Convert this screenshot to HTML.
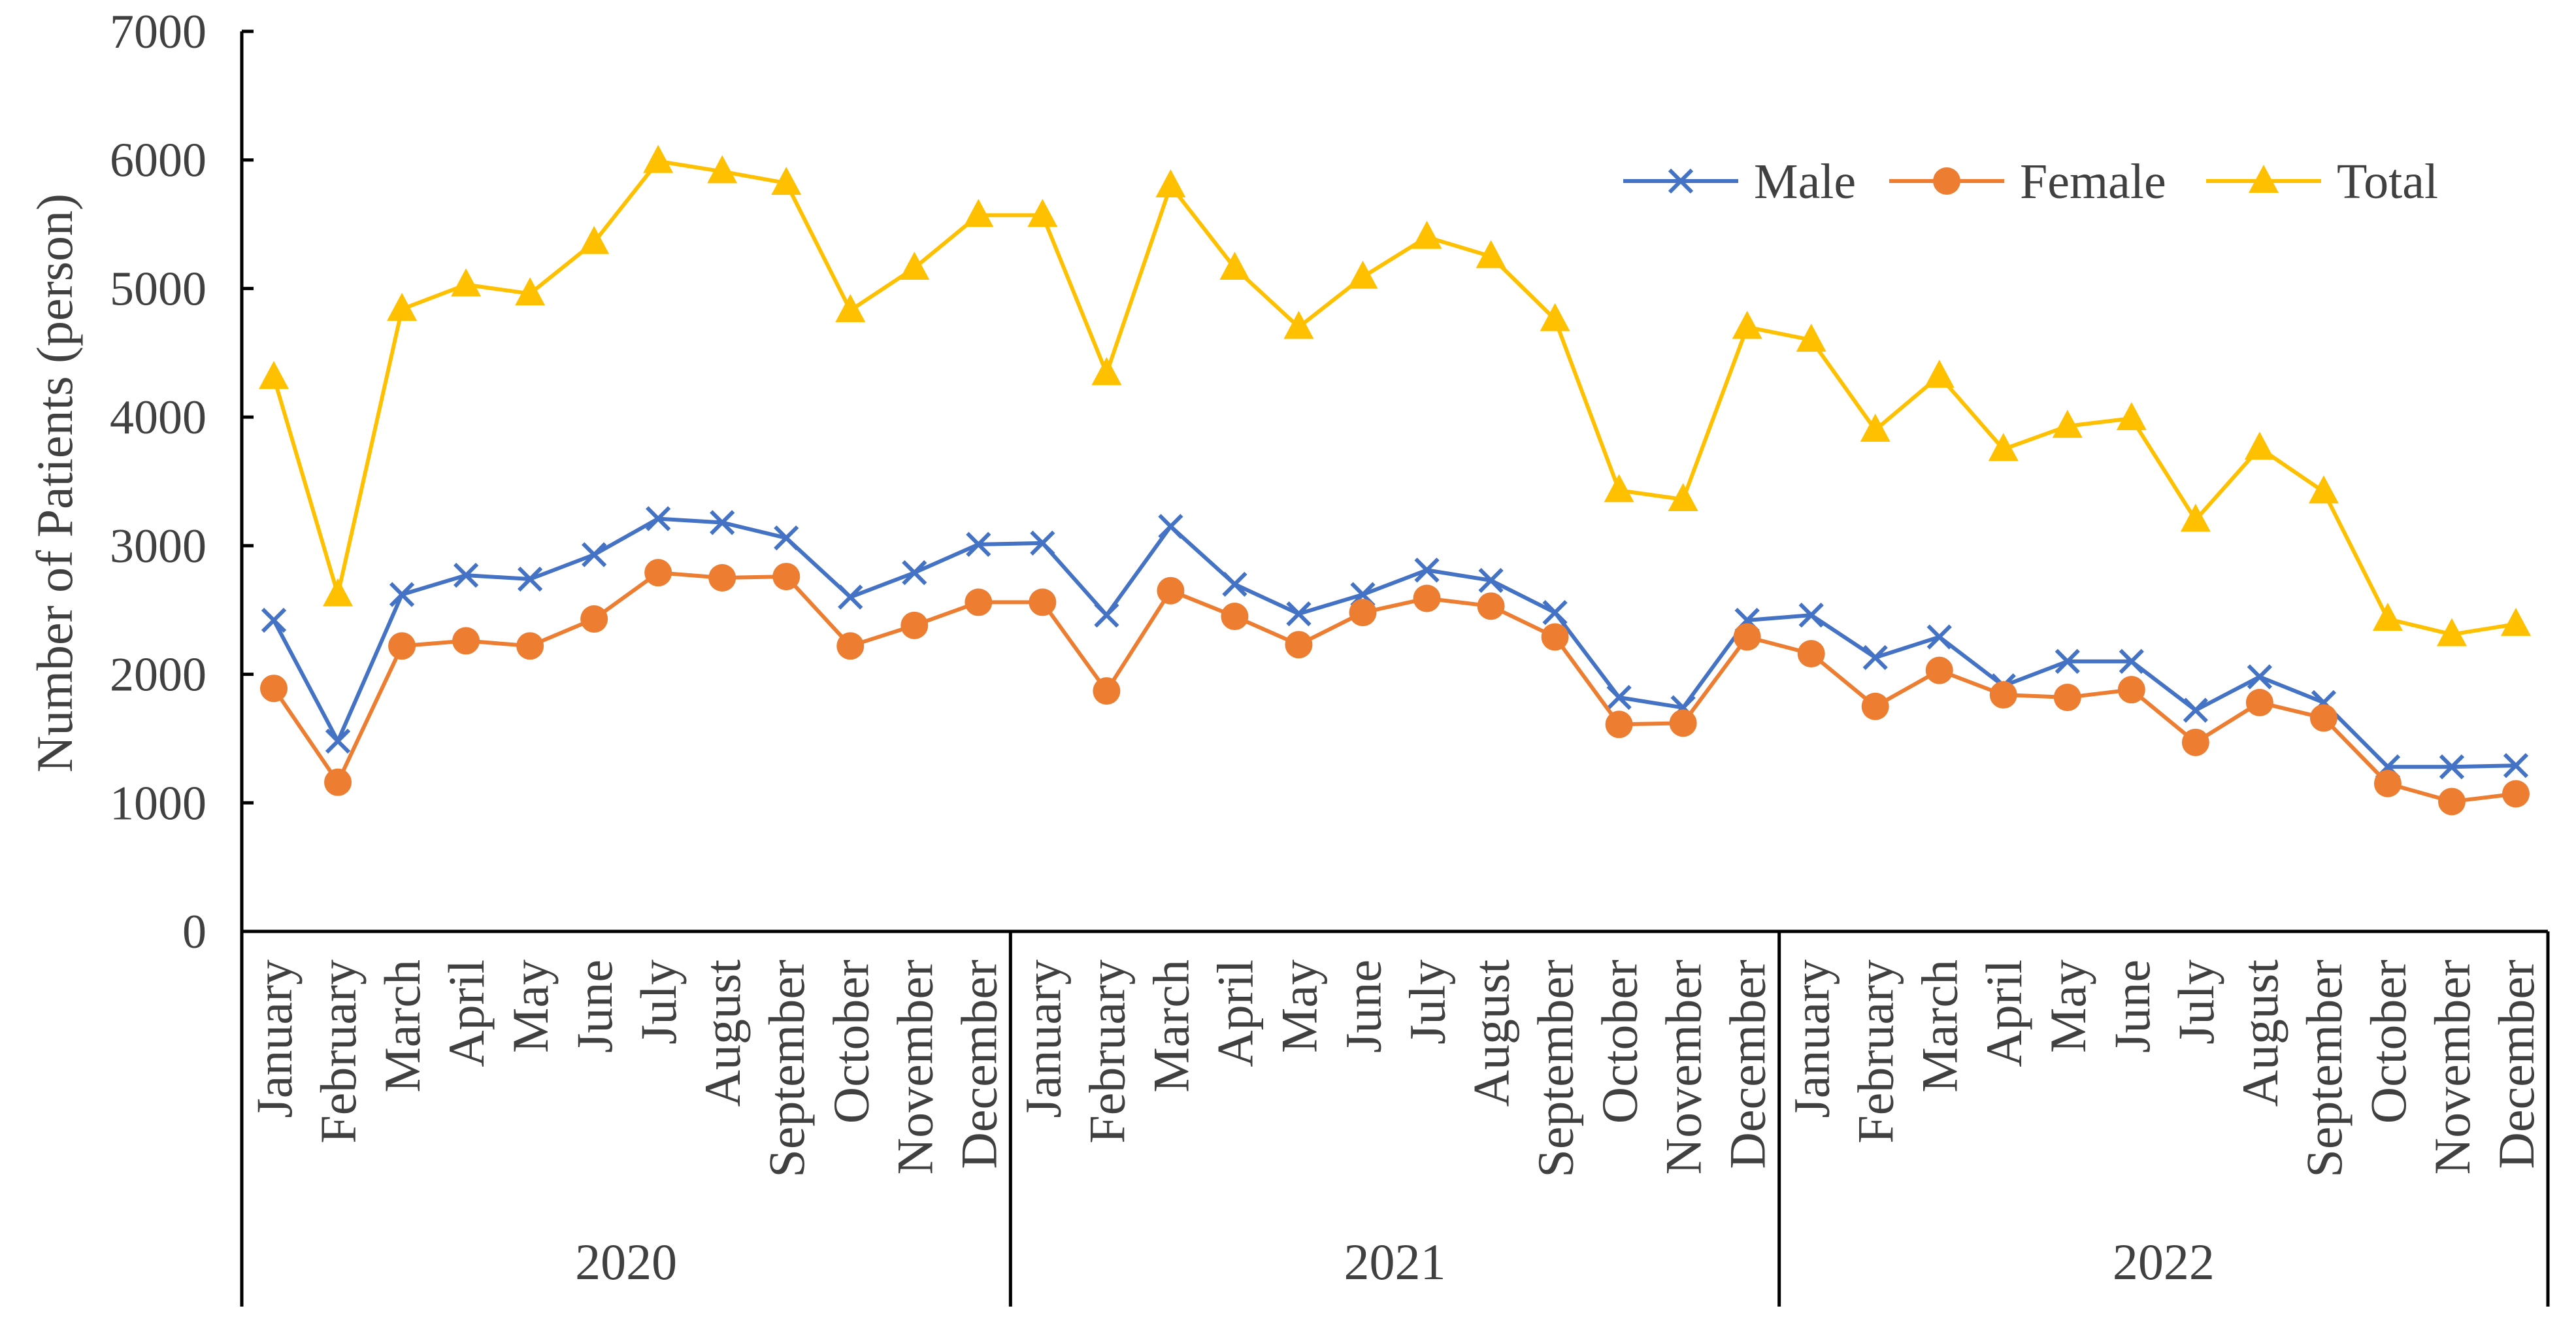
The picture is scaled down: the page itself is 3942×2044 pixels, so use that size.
<!DOCTYPE html>
<html><head><meta charset="utf-8"><style>
html,body{margin:0;padding:0;background:#fff}
svg{display:block}
text{font-family:"Liberation Serif",serif;fill:#404040}
</style></head><body>
<svg id="chart" width="3942" height="2044" viewBox="0 0 3942 2044" xmlns="http://www.w3.org/2000/svg">
<g id="axes"></g>
<g id="series"></g>
<g id="legend"></g>
</svg>
<script>
const months = ["January","February","March","April","May","June","July","August","September","October","November","December"];
const years = ["2020","2021","2022"];
const yTicks = [0,1000,2000,3000,4000,5000,6000,7000];
const maleValues = [2420,1480,2620,2770,2740,2930,3210,3180,3060,2600,2790,3010,3020,2460,3150,2700,2470,2620,2810,2730,2480,1820,1740,2420,2460,2130,2290,1910,2100,2100,1720,1980,1780,1280,1280,1290];
const femaleValues = [1890,1160,2220,2260,2220,2430,2790,2750,2760,2220,2380,2560,2560,1870,2650,2450,2230,2480,2590,2530,2290,1610,1620,2290,2160,1750,2030,1840,1820,1880,1470,1780,1660,1150,1010,1070];
const totalValues = [4310,2620,4840,5030,4960,5360,5990,5910,5820,4830,5160,5570,5570,4340,5800,5160,4700,5090,5400,5250,4760,3430,3360,4700,4600,3900,4320,3750,3930,3990,3200,3760,3420,2430,2310,2390];

const NS="http://www.w3.org/2000/svg";
const X0=370,X1=3899,Y0=1425,YT=48,YMAX=7000;
const N=months.length*years.length;
const step=(X1-X0)/N;
const xs=i=>X0+step*(i+0.5);
const ys=v=>Y0-(v/YMAX)*(Y0-YT);
function mk(tag,attrs,parent){const e=document.createElementNS(NS,tag);for(const k in attrs)e.setAttribute(k,attrs[k]);parent.appendChild(e);return e;}
const axes=document.getElementById('axes');
const series=document.getElementById('series');
const legend=document.getElementById('legend');

let yl=mk('line',{x1:X0,y1:YT,x2:X0,y2:Y0,stroke:'#000','stroke-width':5},axes);


yTicks.forEach(t=>{
  const tk=mk('line',{x1:X0,y1:ys(t),x2:X0+18,y2:ys(t),stroke:'#000','stroke-width':5},axes);
  
  
  const tx=mk('text',{x:X0-54,y:ys(t)+25,'text-anchor':'end','font-size':74},axes);
  
  
  tx.textContent=t;
});
const yt=mk('text',{x:0,y:0,'text-anchor':'middle','font-size':78,transform:`translate(110,739) rotate(-90)`},axes);


yt.textContent='Number of Patients (person)';

let xl=mk('line',{x1:X0-2,y1:Y0,x2:X1,y2:Y0,stroke:'#000','stroke-width':5},axes);


for(let k=0;k<=years.length;k++){
  const x=X0+step*months.length*k;
  const sep=mk('line',{x1:x,y1:Y0,x2:x,y2:1999,stroke:'#000','stroke-width':5},axes);
  
  
}
years.forEach((yr,k)=>{
  const cx=X0+step*months.length*(k+0.5);
  const t=mk('text',{x:cx,y:1957,'text-anchor':'middle','font-size':78},axes);
  
  
  t.textContent=yr;
  months.forEach((m,j)=>{
    const i=k*months.length+j;
    const lt=mk('text',{x:0,y:0,'text-anchor':'end','font-size':78,transform:`translate(${xs(i)+27},1468) rotate(-90)`},axes);
    
    
    lt.textContent=m;
  });
});

function marker(type,x,y,color,parent){
  let e;
  if(type==='x'){
    e=mk('path',{d:`M${x-17},${y-17}L${x+17},${y+17}M${x-17},${y+17}L${x+17},${y-17}`,stroke:color,'stroke-width':6,fill:'none'},parent);
  }else if(type==='o'){
    e=mk('circle',{cx:x,cy:y,r:21,fill:color},parent);
  }else{
    e=mk('path',{d:`M${x},${y-25}L${x+23},${y+18}L${x-23},${y+18}Z`,fill:color},parent);
  }
  return e;
}
const defs=[
  {name:'male',label:'Male',vals:maleValues,color:'#4472C4',m:'x',lx:2484},
  {name:'female',label:'Female',vals:femaleValues,color:'#ED7D31',m:'o',lx:2891},
  {name:'total',label:'Total',vals:totalValues,color:'#FFC000',m:'t',lx:3376},
];
defs.forEach(s=>{
  const g=mk('g',{},series);
  
  
  const pl=mk('polyline',{points:s.vals.map((v,i)=>xs(i)+','+ys(v)).join(' '),fill:'none',stroke:s.color,'stroke-width':6,'stroke-linejoin':'round'},g);
  
  
  s.vals.forEach((v,i)=>{
    const mm=marker(s.m,xs(i),ys(v),s.color,g);
    
    
  });
  const lg=mk('g',{},legend);
  
  
  const ly=277;
  mk('line',{x1:s.lx,y1:ly,x2:s.lx+176,y2:ly,stroke:s.color,'stroke-width':6},lg);
  marker(s.m,s.lx+88,ly,s.color,lg);
  const lt=mk('text',{x:s.lx+200,y:ly+26,'font-size':76},lg);
  
  
  lt.textContent=s.label;
});
</script>
</body></html>
